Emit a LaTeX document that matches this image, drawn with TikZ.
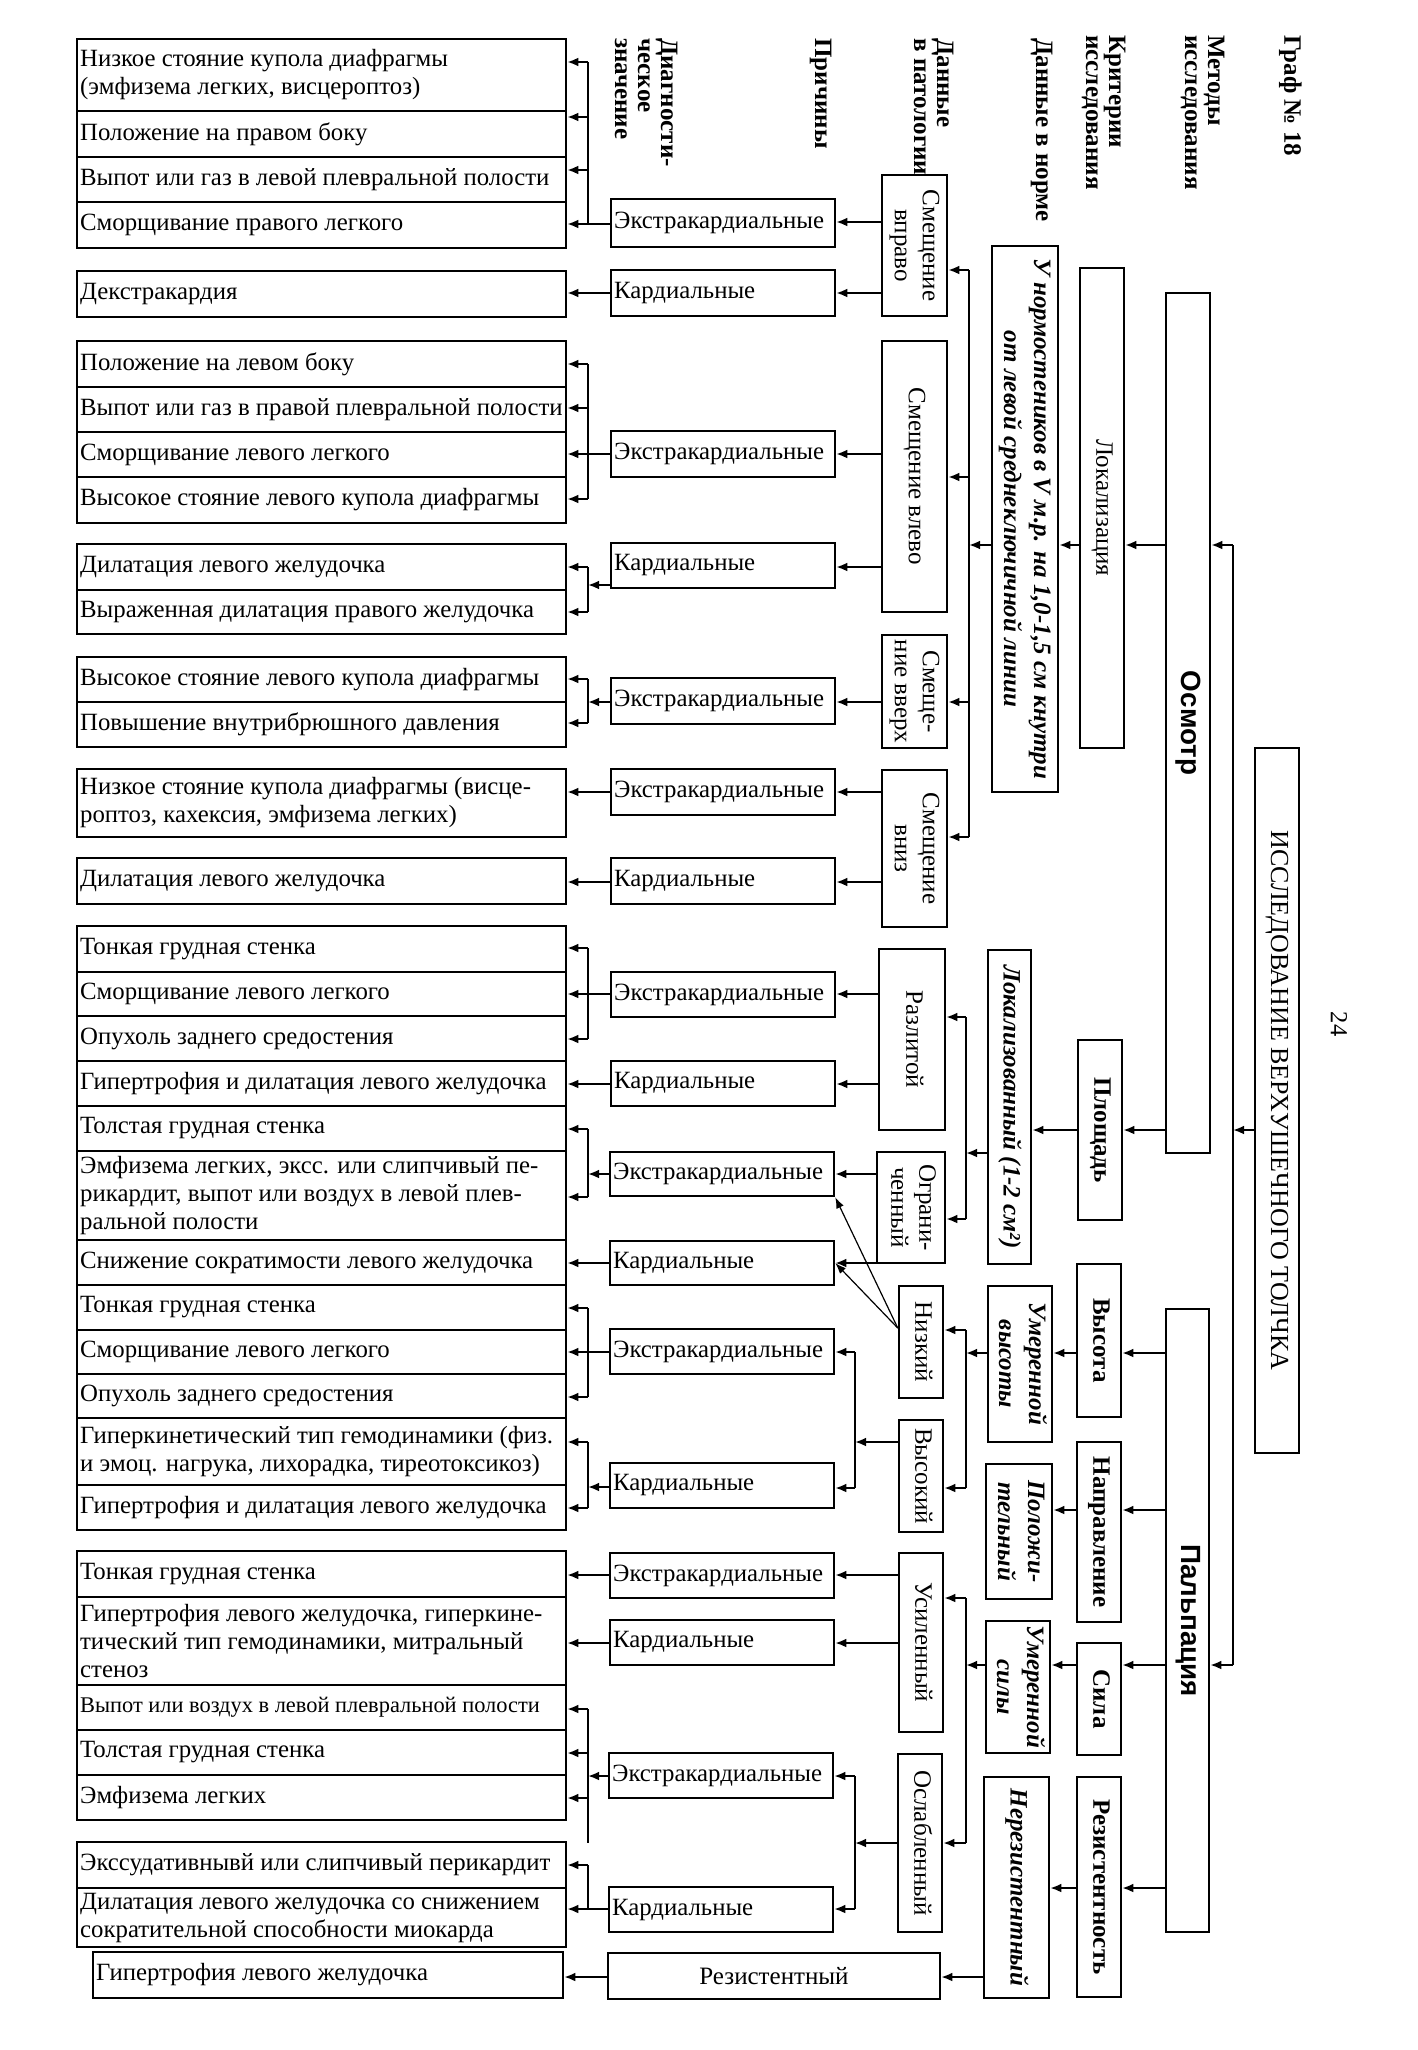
\documentclass[tikz,border=0pt]{standalone}
\usepackage{fontspec}
\setmainfont{Liberation Serif}
\newfontfamily\hsans{Liberation Sans}
\usepackage{graphicx}
\usetikzlibrary{arrows.meta}

\newcommand\rtc[1]{\rotatebox{-90}{\begin{tabular}{@{}c@{}}#1\end{tabular}}}
\newcommand\rtl[1]{\rotatebox{-90}{\begin{tabular}{@{}l@{}}#1\end{tabular}}}

\tikzset{
 bxs/.style={draw, line width=1.25pt, inner sep=0.5pt, font=\fontsize{12.5}{14}\selectfont},
 lbx/.style={draw, line width=1.25pt, inner sep=0pt},
 lbl/.style={anchor=west, align=left, inner xsep=2pt, inner ysep=0pt, font=\fontsize{12.4}{14}\selectfont},
 bfb/.style={font=\fontsize{12.5}{14}\selectfont\bfseries},
 nrm/.style={font=\fontsize{12.5}{15}\selectfont\bfseries\itshape},
 sfb/.style={font=\hsans\bfseries\fontsize{13.9}{16}\selectfont},
 hdr/.style={anchor=north east, inner sep=0pt, font=\fontsize{12.5}{11.5}\selectfont\bfseries},
 arr/.style={line width=1pt, -{Latex[length=5.5pt,width=4.4pt]}},
 tarr/.style={line width=0.6pt, -{Latex[length=5.5pt,width=4pt]}},
 ln/.style={line width=1pt},
}

\newcommand\BX[7][]{%
  \pgfmathsetmacro\bxw{(#5-#3)*0.5}%
  \pgfmathsetmacro\bxh{(#6-#4)*0.5}%
  \node[bxs,minimum width=\bxw pt,minimum height=\bxh pt,#1] (#2) at ({(#3+#5)/2},{(#4+#6)/2}) {#7};}
\newcommand\LX[6]{%
  \pgfmathsetmacro\bxw{(#4-#2)*0.5}%
  \pgfmathsetmacro\bxh{(#5-#3)*0.5}%
  \node[lbx,minimum width=\bxw pt,minimum height=\bxh pt] (#1) at ({(#2+#4)/2},{(#3+#5)/2}) {};%
  \node[lbl] (#1t) at (#1.west) {#6};}

\begin{document}
\begin{tikzpicture}[x=0.5pt,y=-0.5pt]
\fill[white] (0,0) rectangle (1418,2050);
\useasboundingbox (0,0) rectangle (1418,2050);

% ---------- headers ----------
\node[hdr] (hg) at (1302,35) {\rtl{Граф № 18}};
\node[hdr] (hm) at (1225,35) {\rtl{Методы\\исследования}};
\node[hdr] (hk) at (1126,35) {\rtl{Критерии\\исследования}};
\node[hdr] (hn) at (1053,38) {\rtl{Данные в норме}};
\node[hdr] (hp) at (954,38) {\rtl{Данные\\в патологии}};
\node[hdr] (hc) at (832,38) {\rtl{Причины}};
\node[hdr] (hd) at (678,38) {\rtl{Диагности-\\ческое\\значение}};
\node[inner sep=0pt, font=\fontsize{12.25}{14}\selectfont] (pg) at (1339,1024) {\rotatebox{-90}{24}};

% ---------- methods ----------
\BX[font=\fontsize{13}{15}\selectfont]{root}{1255}{748}{1299}{1453}{\rtc{ИССЛЕДОВАНИЕ ВЕРХУШЕЧНОГО ТОЛЧКА}}
\BX[sfb]{osm}{1166}{293}{1210}{1153}{\rtc{Осмотр}}
\BX[sfb]{palp}{1166}{1309}{1209}{1932}{\rtc{Пальпация}}

% ---------- criteria ----------
\BX{lok}{1080}{268}{1124}{748}{\rtc{Локализация}}
\BX[bfb]{plo}{1078}{1040}{1122}{1220}{\rtc{Площадь}}
\BX[bfb]{vys}{1077}{1264}{1121}{1417}{\rtc{Высота}}
\BX[bfb]{nap}{1077}{1442}{1121}{1622}{\rtc{Направление}}
\BX[bfb]{sil}{1077}{1643}{1121}{1755}{\rtc{Сила}}
\BX[bfb]{rez}{1077}{1777}{1121}{1997}{\rtc{Резистентность}}

% ---------- norm ----------
\BX[nrm]{n1}{992}{246}{1058}{792}{\rtc{У нормостеников в V м.р. на 1,0-1,5 см кнутри\\от левой среднеключичной линии}}
\BX[nrm]{n2}{988}{950}{1031}{1264}{\rtc{Локализованный (1-2 см²)}}
\BX[nrm]{n3}{988}{1286}{1052}{1442}{\rtc{Умеренной\\высоты}}
\BX[nrm]{n4}{986}{1464}{1052}{1599}{\rtc{Положи-\\тельный}}
\BX[nrm]{n5}{986}{1621}{1050}{1753}{\rtc{Умеренной\\силы}}
\BX[nrm]{n6}{984}{1777}{1049}{1998}{\rtc{Нерезистентный}}

% ---------- pathology ----------
\BX{p1}{882}{175}{947}{316}{\rtc{Смещение\\вправо}}
\BX{p2}{882}{341}{947}{612}{\rtc{Смещение влево}}
\BX{p3}{882}{635}{947}{748}{\rtc{Смеще-\\ние вверх}}
\BX{p4}{882}{770}{947}{927}{\rtc{Смещение\\вниз}}
\BX{p5}{879}{949}{945}{1130}{\rtc{Разлитой}}
\BX{p6}{877}{1152}{945}{1263}{\rtc{Ограни-\\ченный}}
\BX{p7}{899}{1286}{943}{1398}{\rtc{Низкий}}
\BX{p8}{899}{1420}{943}{1532}{\rtc{Высокий}}
\BX{p9}{899}{1553}{943}{1732}{\rtc{Усиленный}}
\BX{p10}{898}{1754}{942}{1932}{\rtc{Ослабленный}}
\BX{p11}{608}{1953}{940}{1999}{Резистентный}

% ---------- causes ----------
\LX{c1E}{611}{199}{835}{247}{Экстракардиальные}
\LX{c1K}{611}{270}{835}{316}{Кардиальные}
\LX{c2E}{611}{431}{835}{477}{Экстракардиальные}
\LX{c2K}{611}{543}{835}{588}{Кардиальные}
\LX{c3E}{611}{678}{835}{724}{Экстракардиальные}
\LX{c4E}{611}{769}{835}{815}{Экстракардиальные}
\LX{c4K}{611}{858}{835}{904}{Кардиальные}
\LX{c5E}{611}{972}{835}{1017}{Экстракардиальные}
\LX{c5K}{611}{1061}{835}{1106}{Кардиальные}
\LX{c6E}{610}{1152}{834}{1196}{Экстракардиальные}
\LX{c6K}{610}{1241}{834}{1285}{Кардиальные}
\LX{c7E}{610}{1329}{834}{1374}{Экстракардиальные}
\LX{c7K}{610}{1463}{834}{1508}{Кардиальные}
\LX{c8E}{610}{1553}{834}{1598}{Экстракардиальные}
\LX{c8K}{610}{1620}{834}{1665}{Кардиальные}
\LX{c9E}{609}{1753}{833}{1798}{Экстракардиальные}
\LX{c9K}{609}{1887}{833}{1932}{Кардиальные}

% ---------- diagnostic value ----------
\LX{d1a}{77}{39}{566}{111}{Низкое стояние купола диафрагмы\\(эмфизема легких, висцероптоз)}
\LX{d1b}{77}{111}{566}{157}{Положение на правом боку}
\LX{d1c}{77}{157}{566}{202}{Выпот или газ в левой плевральной полости}
\LX{d1d}{77}{202}{566}{248}{Сморщивание правого легкого}
\LX{d2}{77}{271}{566}{317}{Декстракардия}
\LX{d3a}{77}{341}{566}{387}{Положение на левом боку}
\LX{d3b}{77}{387}{566}{432}{Выпот или газ в правой плевральной полости}
\LX{d3c}{77}{432}{566}{477}{Сморщивание левого легкого}
\LX{d3d}{77}{477}{566}{523}{Высокое стояние левого купола диафрагмы}
\LX{d4a}{77}{544}{566}{590}{Дилатация левого желудочка}
\LX{d4b}{77}{590}{566}{634}{Выраженная дилатация правого желудочка}
\LX{d5a}{77}{657}{566}{702}{Высокое стояние левого купола диафрагмы}
\LX{d5b}{77}{702}{566}{747}{Повышение внутрибрюшного давления}
\LX{d6}{77}{769}{566}{837}{Низкое стояние купола диафрагмы (висце-\\роптоз, кахексия, эмфизема легких)}
\LX{d7}{77}{858}{566}{904}{Дилатация левого желудочка}
\LX{d8a}{77}{926}{566}{972}{Тонкая грудная стенка}
\LX{d8b}{77}{972}{566}{1016}{Сморщивание левого легкого}
\LX{d8c}{77}{1016}{566}{1061}{Опухоль заднего средостения}
\LX{d8d}{77}{1061}{566}{1106}{Гипертрофия и дилатация левого желудочка}
\LX{d8e}{77}{1106}{566}{1151}{Толстая грудная стенка}
\LX{d8f}{77}{1151}{566}{1240}{Эмфизема легких, эксс. или слипчивый пе-\\рикардит, выпот или воздух в левой плев-\\ральной полости}
\LX{d8g}{77}{1240}{566}{1285}{Снижение сократимости левого желудочка}
\LX{d8h}{77}{1285}{566}{1330}{Тонкая грудная стенка}
\LX{d8i}{77}{1330}{566}{1374}{Сморщивание левого легкого}
\LX{d8j}{77}{1374}{566}{1418}{Опухоль заднего средостения}
\LX{d8k}{77}{1418}{566}{1485}{Гиперкинетический тип гемодинамики (физ.\\и эмоц. нагрука, лихорадка, тиреотоксикоз)}
\LX{d8l}{77}{1485}{566}{1530}{Гипертрофия и дилатация левого желудочка}
\LX{d9a}{77}{1551}{566}{1597}{Тонкая грудная стенка}
\LX{d9b}{77}{1597}{566}{1685}{Гипертрофия левого желудочка, гиперкине-\\тический тип гемодинамики, митральный\\стеноз}
\LX{d9c}{77}{1685}{566}{1730}{{\fontsize{11.2}{13}\selectfont Выпот или воздух в левой плевральной полости}}
\LX{d9d}{77}{1730}{566}{1775}{Толстая грудная стенка}
\LX{d9e}{77}{1775}{566}{1820}{Эмфизема легких}
\LX{d10a}{77}{1842}{566}{1888}{Экссудативнывй или слипчивый перикардит}
\LX{d10b}{77}{1888}{566}{1947}{Дилатация левого желудочка со снижением\\сократительной способности миокарда}
\LX{d11}{93}{1952}{563}{1998}{Гипертрофия левого желудочка}

% ---------- connectors: methods / criteria / norm ----------
\draw[arr] (root.west |- 0,1130) -- (1233,1130);
\draw[ln] (1233,545) -- (1233,1665);
\draw[arr] (1233,545) -- (osm.east |- 0,545);
\draw[arr] (1233,1665) -- (palp.east |- 0,1665);
\draw[arr] (osm.west |- 0,545) -- (lok.east |- 0,545);
\draw[arr] (osm.west |- 0,1130) -- (plo.east |- 0,1130);
\draw[arr] (palp.west |- 0,1353) -- (vys.east |- 0,1353);
\draw[arr] (palp.west |- 0,1510) -- (nap.east |- 0,1510);
\draw[arr] (palp.west |- 0,1665) -- (sil.east |- 0,1665);
\draw[arr] (palp.west |- 0,1888) -- (rez.east |- 0,1888);
\draw[arr] (lok.west |- 0,545) -- (n1.east |- 0,545);
\draw[arr] (plo.west |- 0,1130) -- (n2.east |- 0,1130);
\draw[arr] (vys.west |- 0,1353) -- (n3.east |- 0,1353);
\draw[arr] (nap.west |- 0,1510) -- (n4.east |- 0,1510);
\draw[arr] (sil.west |- 0,1665) -- (n5.east |- 0,1665);
\draw[arr] (rez.west |- 0,1888) -- (n6.east |- 0,1888);

% norm -> pathology
\draw[arr] (n1.west |- 0,545) -- (969,545);
\draw[ln] (969,270) -- (969,837);
\foreach \y/\t in {270/p1,477/p2,702/p3,837/p4} \draw[arr] (969,\y) -- (\t.east |- 0,\y);
\draw[arr] (n2.west |- 0,1153) -- (966,1153);
\draw[ln] (966,1017) -- (966,1219);
\foreach \y/\t in {1017/p5,1219/p6} \draw[arr] (966,\y) -- (\t.east |- 0,\y);
\draw[arr] (n3.west |- 0,1353) -- (966,1353);
\draw[ln] (966,1330) -- (966,1488);
\foreach \y/\t in {1330/p7,1488/p8} \draw[arr] (966,\y) -- (\t.east |- 0,\y);
\draw[arr] (n5.west |- 0,1665) -- (966,1665);
\draw[ln] (966,1598) -- (966,1843);
\foreach \y/\t in {1598/p9,1843/p10} \draw[arr] (966,\y) -- (\t.east |- 0,\y);
\draw[arr] (n6.west |- 0,1977) -- (p11.east |- 0,1977);

% pathology -> causes
\foreach \y/\s/\t in {222/p1/c1E,293/p1/c1K,454/p2/c2E,567/p2/c2K,702/p3/c3E,792/p4/c4E,882/p4/c4K,994/p5/c5E,1084/p5/c5K,1174/p6/c6E,1263/p6/c6K,1575/p9/c8E,1643/p9/c8K}
  \draw[arr] (\s.west |- 0,\y) -- (\t.east |- 0,\y);
\draw[tarr] (p7.west |- 0,1328) -- (c6E.south east);
\draw[tarr] (p7.west |- 0,1328) -- (c6K.east);
\draw[arr] (p8.west |- 0,1442) -- (855,1442);
\draw[ln] (855,1352) -- (855,1488);
\draw[arr] (855,1352) -- (c7E.east |- 0,1352);
\draw[arr] (855,1488) -- (c7K.east |- 0,1488);
\draw[arr] (p10.west |- 0,1843) -- (855,1843);
\draw[ln] (855,1776) -- (855,1909);
\draw[arr] (855,1776) -- (c9E.east |- 0,1776);
\draw[arr] (855,1909) -- (c9K.east |- 0,1909);
\draw[arr] (p11.west |- 0,1977) -- (d11.east |- 0,1977);

% causes -> diagnostic value
\draw[arr] (c1E.west |- 0,224) -- (d1d.east |- 0,224);
\draw[ln] (588,224) -- (588,62);
\foreach \y/\t in {62/d1a,117/d1b,170/d1c} \draw[arr] (588,\y) -- (\t.east |- 0,\y);
\draw[arr] (c1K.west |- 0,293) -- (d2.east |- 0,293);
\draw[arr] (c2E.west |- 0,454) -- (d3c.east |- 0,454);
\draw[ln] (588,364) -- (588,499);
\foreach \y/\t in {364/d3a,408/d3b,499/d3d} \draw[arr] (588,\y) -- (\t.east |- 0,\y);
\draw[arr] (c2K.west |- 0,585) -- (588,585);
\draw[ln] (588,567) -- (588,612);
\foreach \y/\t in {567/d4a,612/d4b} \draw[arr] (588,\y) -- (\t.east |- 0,\y);
\draw[arr] (c3E.west |- 0,702) -- (588,702);
\draw[ln] (588,679) -- (588,723);
\foreach \y/\t in {679/d5a,723/d5b} \draw[arr] (588,\y) -- (\t.east |- 0,\y);
\draw[arr] (c4E.west |- 0,792) -- (d6.east |- 0,792);
\draw[arr] (c4K.west |- 0,882) -- (d7.east |- 0,882);
\draw[arr] (c5E.west |- 0,994) -- (d8b.east |- 0,994);
\draw[ln] (588,948) -- (588,1039);
\foreach \y/\t in {948/d8a,1039/d8c} \draw[arr] (588,\y) -- (\t.east |- 0,\y);
\draw[arr] (c5K.west |- 0,1084) -- (d8d.east |- 0,1084);
\draw[arr] (c6E.west |- 0,1174) -- (588,1174);
\draw[ln] (588,1129) -- (588,1197);
\foreach \y/\t in {1129/d8e,1197/d8f} \draw[arr] (588,\y) -- (\t.east |- 0,\y);
\draw[arr] (c6K.west |- 0,1263) -- (d8g.east |- 0,1263);
\draw[arr] (c7E.west |- 0,1352) -- (d8i.east |- 0,1352);
\draw[ln] (588,1308) -- (588,1397);
\foreach \y/\t in {1308/d8h,1397/d8j} \draw[arr] (588,\y) -- (\t.east |- 0,\y);
\draw[arr] (c7K.west |- 0,1487) -- (588,1487);
\draw[ln] (588,1442) -- (588,1508);
\foreach \y/\t in {1442/d8k,1508/d8l} \draw[arr] (588,\y) -- (\t.east |- 0,\y);
\draw[arr] (c8E.west |- 0,1575) -- (d9a.east |- 0,1575);
\draw[arr] (c8K.west |- 0,1643) -- (d9b.east |- 0,1643);
\draw[arr] (c9E.west |- 0,1776) -- (588,1776);
\draw[ln] (588,1709) -- (588,1843);
\foreach \y/\t in {1709/d9c,1753/d9d,1798/d9e} \draw[arr] (588,\y) -- (\t.east |- 0,\y);
\draw[arr] (c9K.west |- 0,1909) -- (d10b.east |- 0,1909);
\draw[ln] (588,1865) -- (588,1909);
\draw[arr] (588,1865) -- (d10a.east |- 0,1865);
\end{tikzpicture}
\end{document}
